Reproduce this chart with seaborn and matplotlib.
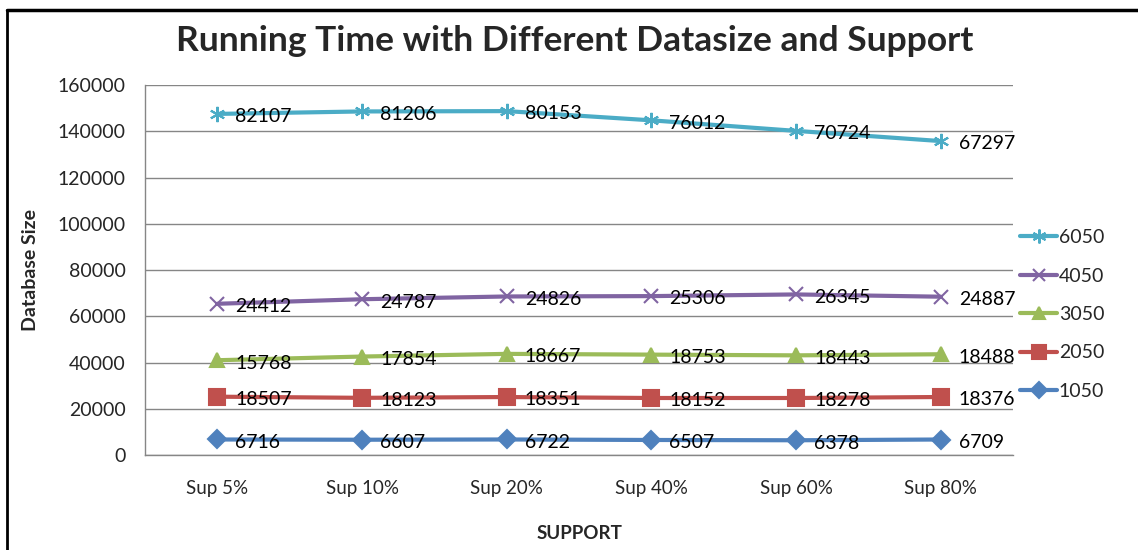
import numpy as np
import pandas as pd
import matplotlib
matplotlib.use("Agg")
import matplotlib.pyplot as plt
from matplotlib.lines import Line2D
import seaborn as sns

# dati (valori delle etichette, la serie viene disegnata impilata come in Excel)
supporti = ['Sup 5%', 'Sup 10%', 'Sup 20%', 'Sup 40%', 'Sup 60%', 'Sup 80%']
serie = ['1050', '2050', '3050', '4050', '6050']
val_1050 = [6716, 6607, 6722, 6507, 6378, 6709]
val_2050 = [18507, 18123, 18351, 18152, 18278, 18376]
val_3050 = [15768, 17854, 18667, 18753, 18443, 18488]
val_4050 = [24412, 24787, 24826, 25306, 26345, 24887]
val_6050 = [82107, 81206, 80153, 76012, 70724, 67297]
y_ticks = [0, 20000, 40000, 60000, 80000, 100000, 120000, 140000, 160000]

valori = [val_1050, val_2050, val_3050, val_4050, val_6050]
impilati = np.cumsum(np.array(valori), axis=0)

righe = []
for s, v, c in zip(serie, valori, impilati):
    for i, (sup, vv, cc) in enumerate(zip(supporti, v, c)):
        righe.append({'Supporto': sup, 'Pos': i, 'Serie': s, 'Valore': vv, 'Cumulato': cc})
df = pd.DataFrame(righe)

colori = {'1050': '#4F81BD', '2050': '#C0504D', '3050': '#9BBB59',
          '4050': '#8064A2', '6050': '#4BACC6'}
marcatori = {'1050': 'D', '2050': 's', '3050': '^', '4050': 'x', '6050': (6, 2, 0)}
dim_marc = {'1050': 9, '2050': 11, '3050': 10, '4050': 10, '6050': 11}

sns.set_style("white")
plt.rcParams['font.family'] = ['Lato', 'DejaVu Sans']

fig = plt.figure(figsize=(11.38, 5.5), dpi=100)
ax = fig.add_axes([0.1274, 0.1727, 0.7629, 0.6727])

for s in serie:
    d = df[df['Serie'] == s]
    sns.lineplot(data=d, x='Pos', y='Cumulato', color=colori[s], marker=marcatori[s],
                 markersize=dim_marc[s], markeredgewidth=1.5, markeredgecolor=colori[s],
                 markerfacecolor=colori[s], linewidth=3, ax=ax, legend=False)

# etichette dati
for s, v, c in zip(serie, valori, impilati):
    for i, (vv, cc) in enumerate(zip(v, c)):
        ax.annotate(str(vv), (i, cc), xytext=(13, -2), textcoords='offset points',
                    ha='left', va='center', fontsize=14, color='black')

ax.set_xlim(-0.5, 5.5)
ax.set_ylim(0, 160000)
ax.set_yticks(y_ticks)
ax.set_yticklabels([str(t) for t in y_ticks], fontsize=14)
ax.set_xticks(range(len(supporti)))
ax.set_xticklabels(supporti, fontsize=13.5)
ax.set_xticks(np.arange(-0.5, 6, 1), minor=True)
ax.tick_params(axis='x', which='major', length=0, pad=18)
ax.tick_params(axis='x', which='minor', length=6, color='#868686', width=1)
ax.tick_params(axis='y', length=6, color='#868686', width=1, pad=8)
ax.grid(axis='y', color='#868686', linewidth=1)
ax.set_axisbelow(True)
for sp in ['top', 'right']:
    ax.spines[sp].set_visible(False)
for sp in ['left', 'bottom']:
    ax.spines[sp].set_color('#868686')
    ax.spines[sp].set_linewidth(1)

ax.set_xlabel('SUPPORT', fontsize=13.5, fontweight='bold', labelpad=20)
ax.set_ylabel('Database Size', fontsize=14, fontweight='bold')
ax.yaxis.set_label_coords(-0.122, 0.5)

fig.text(0.505, 0.925, 'Running Time with Different Datasize and Support',
         ha='center', va='center', fontsize=25.5, fontweight='bold')

# legenda (ordine come in Excel: 6050 in alto)
handles = []
for s in serie[::-1]:
    handles.append(Line2D([0], [0], color=colori[s], linewidth=3, marker=marcatori[s],
                          markersize=dim_marc[s] - 1, markerfacecolor=colori[s],
                          markeredgecolor=colori[s], markeredgewidth=1.5))
ax.legend(handles, serie[::-1], loc='center left', bbox_to_anchor=(0.999, 0.38),
          frameon=False, fontsize=14, labelspacing=1.1, handlelength=1.9,
          handletextpad=0.1, borderaxespad=0.0)

# cornice esterna (solo sopra e a sinistra, come nel ritaglio)
fig.add_artist(Line2D([7 / 1138, 1], [1 - 10 / 550, 1 - 10 / 550], color='black',
                      linewidth=2.5, transform=fig.transFigure))
fig.add_artist(Line2D([7 / 1138, 7 / 1138], [0, 1 - 10 / 550], color='black',
                      linewidth=2, transform=fig.transFigure))

fig.savefig('out.png', dpi=100)
